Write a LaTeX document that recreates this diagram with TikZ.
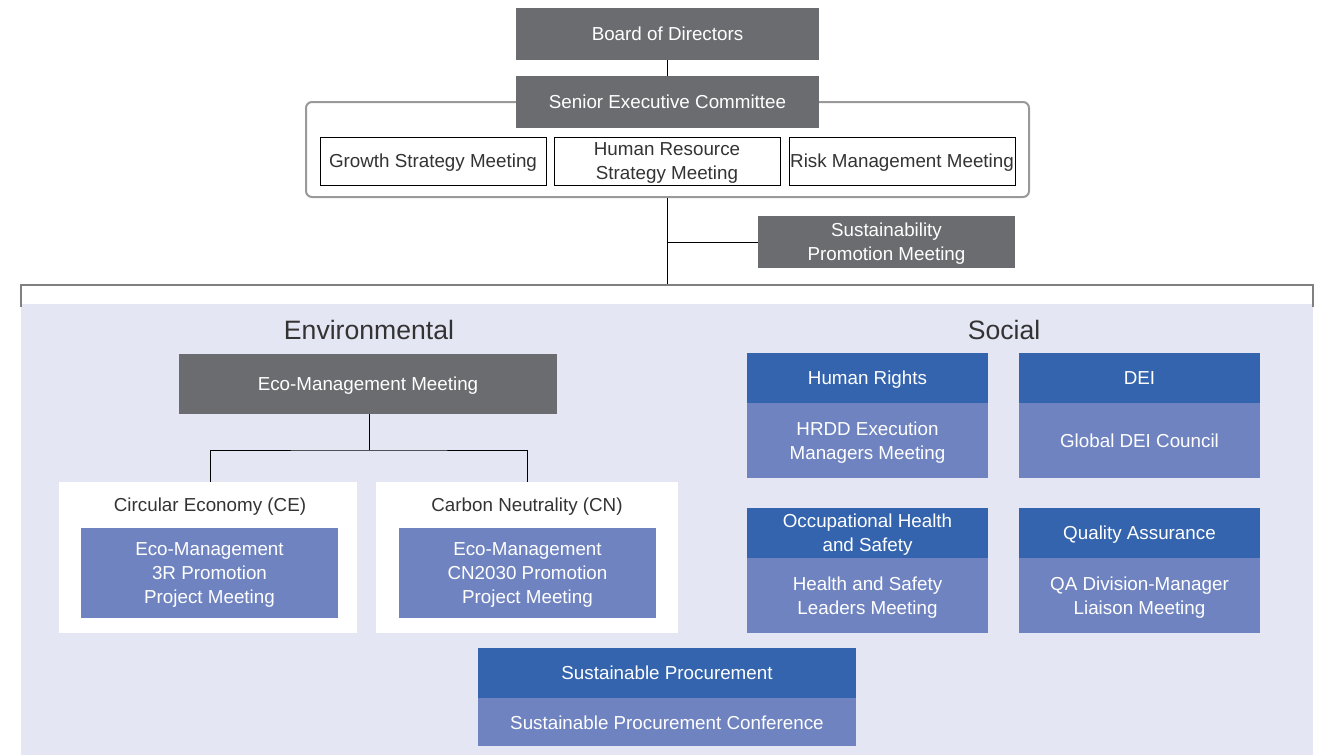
\documentclass[tikz,border=0pt]{standalone}
\usepackage{fontspec}
\setmainfont{Liberation Sans}
\definecolor{boxgray}{HTML}{6B6C70}
\definecolor{hdrblue}{HTML}{3464AE}
\definecolor{bodyblue}{HTML}{6F83C1}
\definecolor{lav}{HTML}{E4E6F3}
\definecolor{txtdark}{HTML}{333333}
\definecolor{frame}{HTML}{999999}
\tikzset{
  base/.style={inner sep=0pt, align=center, text depth=0pt, font=\fontsize{18.8}{24}\selectfont},
  graybox/.style={base, fill=boxgray, text=white},
  whitebox/.style={base, draw=black, line width=0.8pt, fill=white, text=txtdark},
  hdr/.style={base, fill=hdrblue, text=white},
  body/.style={base, fill=bodyblue, text=white},
  panel/.style={fill=white, inner sep=0pt},
  heading/.style={font=\fontsize{26.6}{30}\selectfont, text=txtdark, inner sep=0pt},
  label/.style={base, text=txtdark},
  conn/.style={draw=black, line width=0.8pt},
}
\begin{document}
\begin{tikzpicture}[x=1pt,y=-1pt]
\useasboundingbox (0,0) rectangle (1318,755);
% background region
\fill[lav] (21,304) rectangle (1313,755);
% top
\node[graybox, minimum width=303pt, minimum height=52pt] (bod) at (667.5,34) {Board of Directors};
\node[draw=frame, line width=2pt, rounded corners=6pt, minimum width=723pt, minimum height=95pt, inner sep=0pt] (grp) at (667.5,149.5) {};
\node[graybox, minimum width=303pt, minimum height=52pt] (sec) at (667.5,102) {Senior Executive Committee};
\draw[conn] (bod.south) -- (sec.north);
\node[whitebox, minimum width=226pt, minimum height=48pt] (gsm) at (433,161) {Growth Strategy Meeting};
\node[whitebox, minimum width=226pt, minimum height=48pt] (hrs) at (667,161) {Human Resource\\Strategy Meeting};
\node[whitebox, minimum width=226pt, minimum height=48pt] (rmm) at (902,161) {Risk Management Meeting};
\node[graybox, minimum width=257pt, minimum height=52pt] (spm) at (886.5,242) {Sustainability\\Promotion Meeting};
\coordinate (brk) at (667,285);
\coordinate (bl) at (21,285);
\coordinate (br) at (1313,285);
\draw[conn] (grp.south -| brk) -- (brk);
\draw[conn] (spm.west) -- (spm.west -| brk);
\draw[draw=gray, line width=1.2pt] ([yshift=-22pt]bl) -- (bl) -- (br) -- ([yshift=-22pt]br);
% headings
\node[heading] (env) at (369,330) {Environmental};
\node[heading] (soc) at (1004,330) {Social};
% environmental
\node[graybox, minimum width=378pt, minimum height=60pt] (eco) at (368,384) {Eco-Management Meeting};
\node[panel, minimum width=298pt, minimum height=151pt] (ce) at (208,557.5) {};
\node[panel, minimum width=302pt, minimum height=151pt] (cn) at (527,557.5) {};
\coordinate (j) at (369,450);
\draw[conn] (eco.south -| j) -- (j);
\draw[conn] ([xshift=2pt]ce.north) |- (j) -| (cn.north);
\node[label] (cel) at (210,505) {Circular Economy (CE)};
\node[label] (cnl) at (527,505) {Carbon Neutrality (CN)};
\node[body, minimum width=257pt, minimum height=90pt] (ceb) at (209.5,573) {Eco-Management\\3R Promotion\\Project Meeting};
\node[body, minimum width=257pt, minimum height=90pt] (cnb) at (527.5,573) {Eco-Management\\CN2030 Promotion\\Project Meeting};
% social
\node[hdr, minimum width=241pt, minimum height=50pt] (hrh) at (867.5,378) {Human Rights};
\node[body, minimum width=241pt, minimum height=75pt, anchor=north] (hrb) at (hrh.south) {HRDD Execution\\Managers Meeting};
\node[hdr, minimum width=241pt, minimum height=50pt] (deih) at (1139.5,378) {DEI};
\node[body, minimum width=241pt, minimum height=75pt, anchor=north] (deib) at (deih.south) {Global DEI Council};
\node[hdr, minimum width=241pt, minimum height=50pt] (ohsh) at (867.5,533) {Occupational Health\\and Safety};
\node[body, minimum width=241pt, minimum height=75pt, anchor=north] (ohsb) at (ohsh.south) {Health and Safety\\Leaders Meeting};
\node[hdr, minimum width=241pt, minimum height=50pt] (qah) at (1139.5,533) {Quality Assurance};
\node[body, minimum width=241pt, minimum height=75pt, anchor=north] (qab) at (qah.south) {QA Division-Manager\\Liaison Meeting};
% procurement
\node[hdr, minimum width=378pt, minimum height=50pt] (sph) at (667,673) {Sustainable Procurement};
\node[body, minimum width=378pt, minimum height=48pt, anchor=north] (spb) at (sph.south) {Sustainable Procurement Conference};
\end{tikzpicture}
\end{document}
